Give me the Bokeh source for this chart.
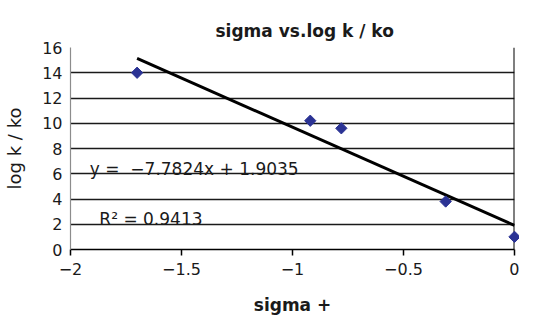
import numpy as np
from bokeh.plotting import figure
from bokeh.models import (ColumnDataSource, FixedTicker, CustomJSTickFormatter,
                          Span, Label, Title)
from bokeh.embed import file_html
from bokeh.resources import INLINE

# ---- data ----
sigma_plus = [-1.70, -0.92, -0.78, -0.31, 0.0]
log_k_ko = [14.0, 10.2, 9.6, 3.8, 1.0]
trend_slope = -7.7824
trend_intercept = 1.9035
r_squared = 0.9413
x_ticks = [-2, -1.5, -1, -0.5, 0]
y_ticks = [0, 2, 4, 6, 8, 10, 12, 14, 16]

FONT = "DejaVu Sans"
TXT = "#1a1a1a"

p = figure(width=519, height=319, output_backend="svg", toolbar_location=None,
           x_range=(x_ticks[0], x_ticks[-1]), y_range=(y_ticks[0], y_ticks[-1]),
           min_border_left=70, min_border_right=5, min_border_top=47,
           min_border_bottom=70)
p.outline_line_color = None
p.background_fill_color = "white"
p.border_fill_color = "white"

p.title = Title(text="sigma vs.log k / ko", text_font=FONT, text_font_size="17px",
                text_font_style="bold", text_color=TXT, align="left", offset=145,
                standoff=13)

# axes
p.xaxis.ticker = FixedTicker(ticks=x_ticks)
p.xaxis.formatter = CustomJSTickFormatter(code="return tick.toString().replace('-', '\u2212');")
p.xaxis.axis_line_color = "black"
p.xaxis.axis_line_width = 1.5
p.xaxis.major_tick_line_color = "black"
p.xaxis.major_tick_line_width = 1.5
p.xaxis.major_tick_out = 6
p.xaxis.major_tick_in = 0
p.xaxis.minor_tick_line_color = None
p.xaxis.major_label_standoff = 7
p.xaxis.major_label_text_font = FONT
p.xaxis.major_label_text_font_size = "16px"
p.xaxis.major_label_text_color = TXT
p.xaxis.axis_label = "sigma +"
p.xaxis.axis_label_text_font = FONT
p.xaxis.axis_label_text_font_size = "17px"
p.xaxis.axis_label_text_font_style = "bold"
p.xaxis.axis_label_text_color = TXT
p.xaxis.axis_label_standoff = 17

p.yaxis.ticker = FixedTicker(ticks=y_ticks)
p.yaxis.axis_line_color = "#8c8c8c"
p.yaxis.axis_line_width = 1.2
p.yaxis.major_tick_line_color = None
p.yaxis.minor_tick_line_color = None
p.yaxis.major_tick_out = 0
p.yaxis.major_label_standoff = 8
p.yaxis.major_label_text_font = FONT
p.yaxis.major_label_text_font_size = "16px"
p.yaxis.major_label_text_color = TXT
p.yaxis.axis_label = "log k / ko"
p.yaxis.axis_label_text_font = FONT
p.yaxis.axis_label_text_font_size = "18px"
p.yaxis.axis_label_text_font_style = "normal"
p.yaxis.axis_label_text_color = TXT
p.yaxis.axis_label_standoff = 14

# grid
p.xgrid.grid_line_color = None
p.ygrid.ticker = FixedTicker(ticks=y_ticks[:-1])
p.ygrid.grid_line_color = "#1a1a1a"
p.ygrid.grid_line_width = 1.3

# vertical axis line crossing at x = 0
p.add_layout(Span(location=x_ticks[-1], dimension="height", line_color="black",
                  line_width=2))

# trendline from the fitted equation
tx = np.array([min(sigma_plus), max(sigma_plus)])
ty = trend_slope * tx + trend_intercept
p.line(tx, ty, line_color="black", line_width=3)

# data points
src = ColumnDataSource(dict(x=sigma_plus, y=log_k_ko))
p.scatter("x", "y", source=src, marker="square", angle=np.pi / 4, size=8,
          fill_color="#2B3394", line_color="#2B3394", level="overlay")

# equation labels
p.add_layout(Label(x=-1.913, y=6.35,
                   text=f"y =\u00a0 \u2212{abs(trend_slope):.4f}x + {trend_intercept:.4f}",
                   text_font=FONT, text_font_size="17px", text_color=TXT,
                   text_baseline="alphabetic"))
p.add_layout(Label(x=-1.87, y=2.39, text=f"R\u00b2 = {r_squared:.4f}",
                   text_font=FONT, text_font_size="17px", text_color=TXT,
                   text_baseline="alphabetic"))

open("out.html", "w").write(file_html(p, INLINE))
